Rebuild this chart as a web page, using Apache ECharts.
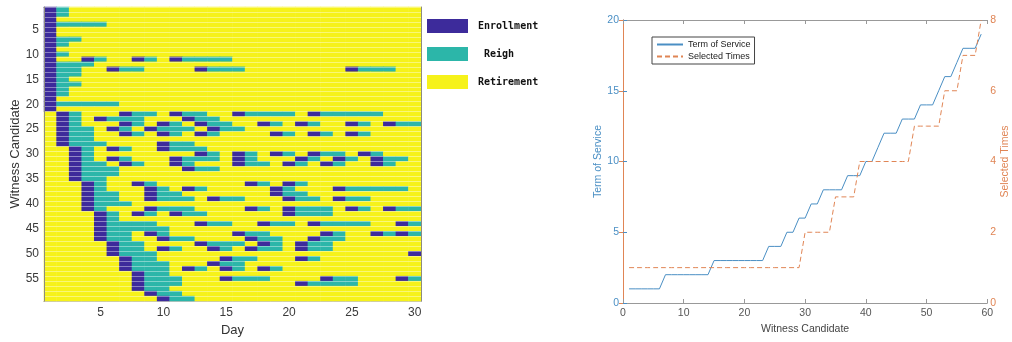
<!DOCTYPE html>
<html>
<head>
<meta charset="utf-8">
<title>Witness candidates</title>
<script src="https://cdn.jsdelivr.net/npm/echarts@6/dist/echarts.min.js"></script>
<style>
  html, body { margin: 0; padding: 0; background: #fff; }
  #chart { width: 1012px; height: 342px; }
</style>
</head>
<body>
<div id="chart"></div>
<script>
(function (echarts) {
  "use strict";

  var days = [1, 2, 3, 4, 5, 6, 7, 8, 9, 10, 11, 12, 13, 14, 15,
    16, 17, 18, 19, 20, 21, 22, 23, 24, 25, 26, 27, 28, 29, 30];

  var candidates = [1, 2, 3, 4, 5, 6, 7, 8, 9, 10, 11, 12, 13, 14, 15,
    16, 17, 18, 19, 20, 21, 22, 23, 24, 25, 26, 27, 28, 29, 30,
    31, 32, 33, 34, 35, 36, 37, 38, 39, 40, 41, 42, 43, 44, 45,
    46, 47, 48, 49, 50, 51, 52, 53, 54, 55, 56, 57, 58, 59];

  /**
   * one entry per witness candidate: each pair is [enrollment day, last reign day].
   * the candidate enrolls on the first day, reigns until the second, retired otherwise
   */
  var terms = [
    [[1, 2]],
    [[1, 2]],
    [[1, 1]],
    [[1, 5]],
    [[1, 1]],
    [[1, 1]],
    [[1, 3]],
    [[1, 2]],
    [[1, 1]],
    [[1, 2]],
    [[1, 1], [4, 5], [8, 9], [11, 15]],
    [[1, 4]],
    [[1, 3], [6, 8], [13, 16], [25, 28]],
    [[1, 3]],
    [[1, 2]],
    [[1, 3]],
    [[1, 2]],
    [[1, 2]],
    [[1, 1]],
    [[1, 6]],
    [[1, 1]],
    [[2, 3], [7, 9], [11, 13], [16, 20], [22, 27]],
    [[2, 3], [5, 8], [12, 14]],
    [[2, 3], [7, 8], [10, 11], [13, 15], [18, 19], [21, 22], [25, 26], [28, 30]],
    [[2, 4], [6, 7], [9, 12], [14, 16]],
    [[2, 4], [7, 8], [10, 11], [13, 14], [19, 20], [22, 23], [25, 26]],
    [[2, 4]],
    [[2, 5], [10, 12]],
    [[3, 4], [6, 7], [10, 13]],
    [[3, 4], [13, 14], [16, 17], [19, 20], [22, 24], [26, 27]],
    [[3, 4], [6, 7], [11, 14], [16, 17], [21, 22], [24, 25], [27, 29]],
    [[3, 5], [7, 8], [11, 12], [16, 18], [20, 21], [23, 24], [27, 28]],
    [[3, 6], [12, 14]],
    [[3, 6]],
    [[3, 5]],
    [[4, 5], [8, 9], [17, 18], [20, 21]],
    [[4, 5], [9, 10], [12, 13], [19, 20], [24, 29]],
    [[4, 6], [9, 11], [19, 21]],
    [[4, 6], [9, 12], [14, 16], [20, 22], [24, 26]],
    [[4, 7]],
    [[4, 5], [9, 12], [17, 18], [20, 23], [25, 26], [28, 30]],
    [[5, 6], [8, 9], [11, 13], [20, 23]],
    [[5, 6]],
    [[5, 9], [13, 15], [18, 20], [22, 26], [29, 30]],
    [[5, 10]],
    [[5, 7], [9, 10], [16, 18], [23, 24], [27, 28], [29, 30]],
    [[5, 7], [10, 12], [17, 19], [22, 24]],
    [[6, 8], [13, 16], [18, 19], [21, 23]],
    [[6, 8], [10, 11], [14, 15], [17, 19], [21, 23]],
    [[6, 9], [30, 30]],
    [[7, 9], [15, 17], [21, 22]],
    [[7, 10], [14, 16]],
    [[7, 10], [12, 13], [15, 16], [18, 19]],
    [[8, 10]],
    [[8, 11], [15, 18], [23, 25], [29, 30]],
    [[8, 11], [21, 25]],
    [[8, 10]],
    [[9, 11]],
    [[10, 12]]
  ];

  var stateNames = ['Enrollment', ' Reigh', 'Retirement'];
  var stateColors = ['#3d2b9b', '#2cb6a9', '#f6f21a'];

  var termOfService = [1, 1, 1, 1, 1, 1, 2, 2, 2, 2, 2, 2, 2, 2, 3, 3, 3, 3, 3, 3,
    3, 3, 3, 4, 4, 4, 5, 5, 6, 6, 7, 7, 8, 8, 8, 8, 9, 9, 9, 10,
    10, 11, 12, 12, 12, 13, 13, 13, 14, 14, 14, 15, 16, 16, 17, 18, 18, 18, 19];

  var selectedTimes = [1, 1, 1, 1, 1, 1, 1, 1, 1, 1, 1, 1, 1, 1, 1, 1, 1, 1, 1, 1,
    1, 1, 1, 1, 1, 1, 1, 1, 1, 2, 2, 2, 2, 2, 3, 3, 3, 3, 4, 4,
    4, 4, 4, 4, 4, 4, 4, 5, 5, 5, 5, 5, 6, 6, 6, 7, 7, 7, 8];

  var BLUE = '#4a8fc4'
    , ORANGE = '#e08555'
    , FRAME = '#8c8c80'
    , SANS = 'Liberation Sans, Arial, sans-serif';

  function stateOf(row, day) {
    var state = 2;
    row.forEach(function (pair) {
      if (day === pair[0]) state = 0;
      else if (day > pair[0] && day <= pair[1]) state = 1;
    });
    return state;
  }

  var cells = [];
  terms.forEach(function (row, r) {
    days.forEach(function (day, d) {
      cells.push([d, r, stateOf(row, day)]);
    });
  });

  function pairs(ys) {
    return candidates.map(function (c, i) { return [c, ys[i]]; });
  }

  function everyFifth(index) {
    return (index + 1) % 5 === 0;
  }

  var chart = echarts.init(document.getElementById('chart'), null, { renderer: 'canvas' });

  chart.setOption({
    animation: false,
    backgroundColor: '#fff',
    grid: [
      { left: 44, top: 7, width: 377, height: 296 },
      { left: 623, top: 20, width: 366, height: 283 }
    ],
    xAxis: [
      {
        gridIndex: 0, type: 'category', data: days, position: 'bottom',
        name: 'Day', nameLocation: 'middle', nameGap: 21,
        nameTextStyle: { fontFamily: SANS, fontSize: 13, color: '#333' },
        axisLine: { lineStyle: { color: FRAME } },
        axisTick: { inside: true, length: 4, alignWithLabel: true, interval: everyFifth, lineStyle: { color: FRAME } },
        axisLabel: { interval: everyFifth, margin: 6, fontFamily: SANS, fontSize: 12, color: '#3a3a3a' },
        splitLine: { show: false }
      },
      {
        gridIndex: 0, type: 'category', data: days, position: 'top',
        axisLine: { lineStyle: { color: FRAME } },
        axisTick: { inside: true, length: 4, alignWithLabel: true, interval: everyFifth, lineStyle: { color: FRAME } },
        axisLabel: { show: false }
      },
      {
        gridIndex: 1, type: 'value', min: 0, max: 60, interval: 10, position: 'bottom',
        name: 'Witness Candidate', nameLocation: 'middle', nameGap: 17,
        nameTextStyle: { fontFamily: SANS, fontSize: 10.5, color: '#444' },
        axisLine: { onZero: false, lineStyle: { color: '#999' } },
        axisTick: { inside: true, length: 4, lineStyle: { color: '#999' } },
        axisLabel: { margin: 5, fontFamily: SANS, fontSize: 10.5, color: '#555' },
        splitLine: { show: false }
      },
      {
        gridIndex: 1, type: 'value', min: 0, max: 60, interval: 10, position: 'top',
        axisLine: { onZero: false, lineStyle: { color: '#999' } },
        axisTick: { inside: true, length: 4, lineStyle: { color: '#999' } },
        axisLabel: { show: false },
        splitLine: { show: false }
      }
    ],
    yAxis: [
      {
        gridIndex: 0, type: 'category', data: candidates, inverse: true, position: 'left', z: 3,
        name: 'Witness Candidate', nameLocation: 'middle', nameGap: 22,
        nameTextStyle: { fontFamily: SANS, fontSize: 13, color: '#333' },
        axisLine: { lineStyle: { color: FRAME } },
        axisTick: { inside: true, length: 4, alignWithLabel: true, interval: everyFifth, lineStyle: { color: FRAME } },
        axisLabel: { interval: everyFifth, margin: 5, fontFamily: SANS, fontSize: 12, color: '#3a3a3a' },
        splitLine: { show: true, interval: 0, lineStyle: { color: 'rgba(255,255,255,0.4)', width: 1 } }
      },
      {
        gridIndex: 0, type: 'category', data: candidates, inverse: true, position: 'right', z: 3,
        axisLine: { lineStyle: { color: FRAME } },
        axisTick: { inside: true, length: 4, alignWithLabel: true, interval: everyFifth, lineStyle: { color: FRAME } },
        axisLabel: { show: false }
      },
      {
        gridIndex: 1, type: 'value', min: 0, max: 20, interval: 5, position: 'left',
        name: 'Term of Service', nameLocation: 'middle', nameGap: 19,
        nameTextStyle: { fontFamily: SANS, fontSize: 10.5, color: BLUE },
        axisLine: { show: true, lineStyle: { color: BLUE } },
        axisTick: { show: true, inside: true, length: 4, lineStyle: { color: BLUE } },
        axisLabel: { margin: 4, fontFamily: SANS, fontSize: 10.5, color: BLUE },
        splitLine: { show: false }
      },
      {
        gridIndex: 1, type: 'value', min: 0, max: 8, interval: 2, position: 'right',
        name: 'Selected Times', nameLocation: 'middle', nameGap: 8,
        nameTextStyle: { fontFamily: SANS, fontSize: 10.5, color: ORANGE },
        axisLine: { show: true, lineStyle: { color: ORANGE } },
        axisTick: { show: true, inside: true, length: 4, lineStyle: { color: ORANGE } },
        axisLabel: { margin: 3, fontFamily: SANS, fontSize: 10.5, color: ORANGE },
        splitLine: { show: false }
      }
    ],
    visualMap: {
      type: 'piecewise',
      seriesIndex: 0,
      dimension: 2,
      orient: 'vertical',
      inverse: true,
      left: 427,
      top: 19,
      padding: 0,
      itemWidth: 41,
      itemHeight: 14,
      itemGap: 14,
      textGap: 10,
      align: 'left',
      itemSymbol: 'rect',
      selectedMode: false,
      hoverLink: false,
      pieces: stateNames.map(function (name, i) {
        return { value: i, label: name, color: stateColors[i] };
      }),
      textStyle: { fontFamily: 'DejaVu Sans Mono, monospace', fontWeight: 'bold', fontSize: 10, color: '#111' }
    },
    legend: {
      data: ['Term of Service', 'Selected Times'],
      orient: 'vertical',
      left: 652,
      top: 37,
      padding: [3, 4, 3, 4],
      itemGap: 3,
      itemWidth: 26,
      itemHeight: 8,
      selectedMode: false,
      borderColor: '#444',
      borderWidth: 1,
      backgroundColor: '#fff',
      itemStyle: { opacity: 0 },
      textStyle: { fontFamily: SANS, fontSize: 9, color: '#222' }
    },
    series: [
      {
        type: 'heatmap',
        xAxisIndex: 0,
        yAxisIndex: 0,
        data: cells,
        emphasis: { disabled: true }
      },
      {
        name: 'Term of Service',
        type: 'line',
        xAxisIndex: 2,
        yAxisIndex: 2,
        data: pairs(termOfService),
        symbol: 'none',
        lineStyle: { color: BLUE, width: 1 },
        itemStyle: { color: BLUE }
      },
      {
        name: 'Selected Times',
        type: 'line',
        xAxisIndex: 2,
        yAxisIndex: 3,
        data: pairs(selectedTimes),
        symbol: 'none',
        lineStyle: { color: ORANGE, width: 1, type: [5, 3] },
        itemStyle: { color: ORANGE }
      }
    ]
  });
})(echarts);
</script>
</body>
</html>
